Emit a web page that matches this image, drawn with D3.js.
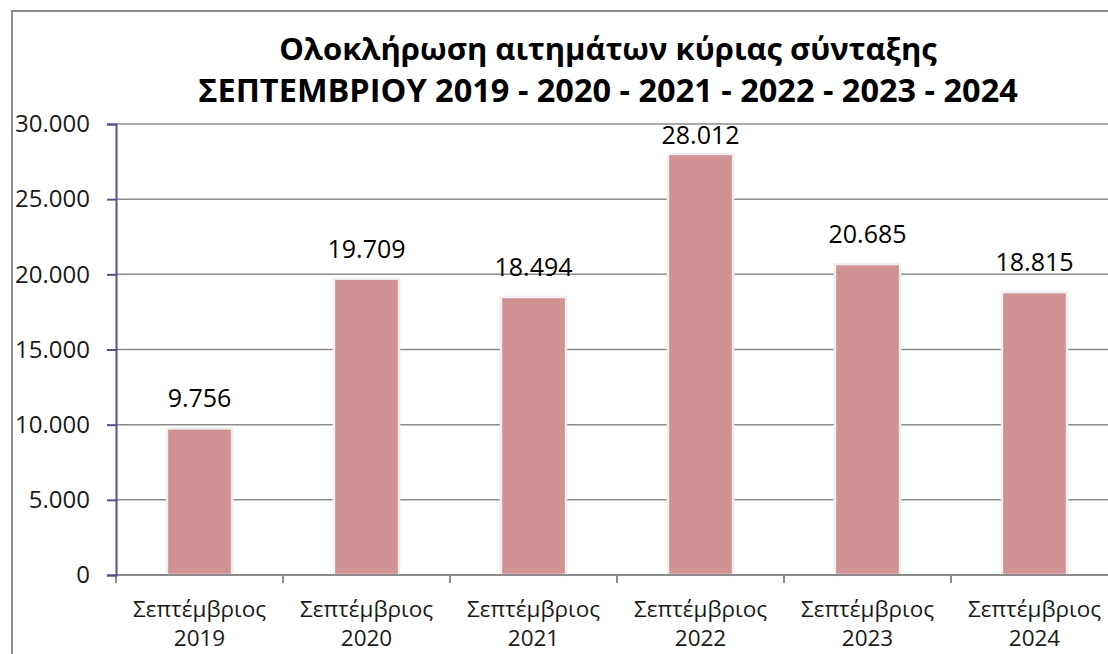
<!DOCTYPE html>
<html>
<head>
<meta charset="utf-8">
<script src="https://cdn.jsdelivr.net/npm/d3@7"></script>
<style>
  body { margin: 0; background: #fff; }
  svg { display: block; font-family: "Open Sans", sans-serif; }
</style>
</head>
<body>
<svg id="chart" width="1108" height="654"></svg>
<script>
// Data
const categories = ['Σεπτέμβριος 2019', 'Σεπτέμβριος 2020', 'Σεπτέμβριος 2021',
                    'Σεπτέμβριος 2022', 'Σεπτέμβριος 2023', 'Σεπτέμβριος 2024'];
const values = [9756, 19709, 18494, 28012, 20685, 18815];
const yTicks = [0, 5000, 10000, 15000, 20000, 25000, 30000];
const titleLines = ['Ολοκλήρωση αιτημάτων κύριας σύνταξης',
                    'ΣΕΠΤΕΜΒΡΙΟΥ 2019 - 2020 - 2021 - 2022 - 2023 - 2024'];

const svg = d3.select('#chart');
const W = 1108, H = 654;
const margin = { top: 124, right: -10, bottom: 79, left: 116 };
const innerW = W - margin.left - margin.right;
const innerH = H - margin.top - margin.bottom;

const fmt = v => d3.format(',')(v).replace(/,/g, '.');

// Outer frame (cut at right/bottom)
svg.append('rect')
    .attr('x', 12).attr('y', 11)
    .attr('width', 1120).attr('height', 660)
    .attr('fill', 'none')
    .attr('stroke', '#8c8c8c')
    .attr('stroke-width', 2);

// Title
svg.append('g').selectAll('text')
    .data(titleLines)
    .join('text')
    .attr('x', 608)
    .attr('y', (d, i) => 60 + i * 42)
    .attr('text-anchor', 'middle')
    .style('font-size', (d, i) => i === 0 ? '31px' : '32.5px')
    .style('font-weight', 'bold')
    .style('fill', '#000')
    .text(d => d);

const g = svg.append('g')
    .attr('transform', `translate(${margin.left},${margin.top})`);

const x = d3.scaleBand()
    .domain(categories)
    .range([0, innerW])
    .paddingInner(0.61)
    .paddingOuter(0.305);

const y = d3.scaleLinear()
    .domain([0, 30000])
    .range([innerH, 0]);

// Grid
g.append('g')
    .selectAll('line')
    .data(yTicks.filter(d => d > 0))
    .join('line')
    .attr('x1', 0).attr('x2', innerW)
    .attr('y1', d => y(d)).attr('y2', d => y(d))
    .attr('stroke', '#8c8c8c')
    .attr('stroke-width', 1.5);

// Bars with soft light outline
g.append('g')
    .selectAll('rect')
    .data(values)
    .join('rect')
    .attr('x', (d, i) => x(categories[i]))
    .attr('y', d => y(d))
    .attr('width', x.bandwidth())
    .attr('height', d => innerH - y(d))
    .attr('fill', '#d09292')
    .attr('stroke', '#f0eeee')
    .attr('stroke-width', 2.5);

// Value labels (kept inside the plot area near the top)
g.append('g')
    .selectAll('text')
    .data(values)
    .join('text')
    .attr('x', (d, i) => x(categories[i]) + x.bandwidth() / 2)
    .attr('y', d => Math.max(y(d) - 21, 20))
    .attr('text-anchor', 'middle')
    .style('font-size', '25px')
    .style('fill', '#000')
    .text(d => fmt(d));

// X axis
const step = x.step();
const xAxis = g.append('g').attr('transform', `translate(0,${innerH})`);
xAxis.append('line')
    .attr('x1', 0).attr('x2', innerW)
    .attr('stroke', '#8c8c8c').attr('stroke-width', 2);
xAxis.selectAll('.xtick')
    .data(d3.range(categories.length + 1))
    .join('line')
    .attr('class', 'xtick')
    .attr('x1', i => i * step).attr('x2', i => i * step)
    .attr('y1', 0).attr('y2', 8)
    .attr('stroke', '#8c8c8c').attr('stroke-width', 2);
const xl = xAxis.selectAll('.xlab')
    .data(categories)
    .join('text')
    .attr('class', 'xlab')
    .attr('text-anchor', 'middle')
    .attr('transform', d => `translate(${x(d) + x.bandwidth() / 2},0)`)
    .style('font-size', '22.5px')
    .style('fill', '#1a1a1a');
xl.append('tspan').attr('x', 0).attr('y', 42).text(d => d.split(' ')[0]);
xl.append('tspan').attr('x', 0).attr('y', 71).text(d => d.split(' ')[1]);

// Y axis
const yAxis = g.append('g')
    .call(d3.axisLeft(y).tickValues(yTicks).tickSize(9).tickPadding(17).tickFormat(fmt));
yAxis.select('.domain').attr('stroke', '#5e4a8a').attr('stroke-width', 2);
yAxis.selectAll('.tick line').attr('stroke', '#5e4a8a').attr('stroke-width', 2);
yAxis.selectAll('.tick text')
    .style('font-size', '24px')
    .style('font-family', '"Open Sans", sans-serif')
    .style('fill', '#1a1a1a');
</script>
</body>
</html>
